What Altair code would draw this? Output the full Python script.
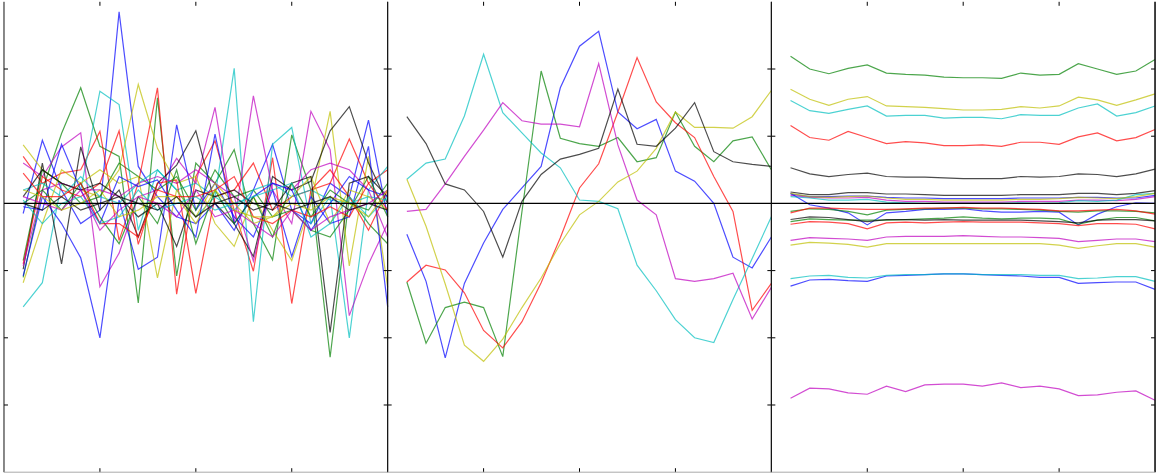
import altair as alt
import pandas as pd

# sample index shared by every trace
X = list(range(1, 21))
X_TICKS = [5, 10, 15]
Y_TICKS = [-3, -2, -1, 1, 2]
X_RANGE = [0, 20]
Y_RANGE = [-4, 3]

# classic colour cycle: b, g, r, c, m, y, k
CYCLE = ["#0000ff", "#008000", "#ff0000", "#00bfbf", "#bf00bf", "#bfbf00", "#000000"]

# left panel: noisy traces (three passes through the colour cycle)
LEFT_SERIES = [
    [-0.15, 0.94, 0.20, -0.30, -0.10, 2.85, 0.55, 0.10, -0.20, -0.30, 0.00, -0.40, 0.20, 0.88, -0.10, -0.30, 0.30, 0.10, 1.24, -0.20],
    [-1.10, 0.20, 1.04, 1.72, 0.85, 0.70, -1.48, 1.57, -1.08, 0.60, 0.30, 0.80, -0.30, -0.84, 1.02, 0.20, -2.29, 0.10, -0.30, -0.60],
    [0.70, 0.30, 0.45, 0.50, 1.07, -0.55, 0.30, 1.72, -1.35, 0.40, 0.93, -0.10, -1.01, 0.68, -1.49, 0.20, 0.30, 0.96, 0.30, 0.50],
    [-1.54, -1.18, 0.30, 0.20, 1.67, 1.47, -0.40, 0.50, 0.20, 0.30, 0.10, 2.01, -1.76, 0.88, 1.13, -0.30, 0.10, -2.00, 0.20, 0.55],
    [0.60, 0.40, 0.84, 1.05, -1.24, -0.74, 0.10, 0.20, 0.67, 0.30, 1.43, -0.30, 1.60, 0.20, -0.30, 1.37, 0.80, -1.67, -0.90, -0.30],
    [0.87, 0.50, 0.30, 0.20, 0.10, 0.50, 1.77, 0.82, 0.30, 0.40, -0.30, -0.64, 0.10, -0.40, -0.85, 0.00, 1.37, -0.93, 0.70, -1.25],
    [-0.98, 0.60, -0.90, 0.84, -0.10, 0.20, -0.50, 0.30, 0.57, 1.08, 0.00, -0.30, -0.79, 0.40, 0.20, 0.33, 1.08, 1.44, 0.60, 0.00],
    [-1.08, 0.10, -0.30, -0.81, -2.00, 0.05, -0.98, -0.80, 1.17, -0.10, 0.30, -0.20, -0.50, 0.20, -0.79, 0.10, -0.30, -0.20, 0.85, -1.54],
    [-0.85, 0.50, 0.30, 0.00, 0.10, 0.60, 0.40, 0.20, 0.40, -0.10, 0.50, 0.10, 0.20, -0.20, -0.10, -0.40, -0.50, -0.10, 0.40, -0.20],
    [-0.90, 0.40, 0.20, 0.10, 0.30, 1.08, -0.61, 0.30, 0.35, -1.34, 0.10, 0.20, 0.60, -0.10, 0.10, 0.20, 0.50, 0.10, -0.40, 0.20],
    [0.20, 0.30, 0.10, 0.40, 0.10, 0.00, 0.30, 0.50, 0.20, -0.20, 0.10, -0.10, 0.20, 0.30, 0.10, 0.20, 0.05, 0.00, 0.10, 0.05],
    [-0.93, 0.20, 0.30, 0.20, 0.20, 0.10, 0.30, 0.40, 0.30, 0.50, 0.30, 0.10, -0.86, 0.30, 0.20, 0.50, 0.60, 0.50, 0.20, -0.50],
    [-1.18, -0.30, 0.50, 0.30, 0.50, 0.30, 0.40, -1.11, 0.20, -0.20, 0.30, 0.00, -0.30, -0.20, 0.10, 0.40, -0.30, 0.20, 0.10, -0.10],
    [0.10, 0.50, 0.30, 0.20, 0.30, 0.10, -0.20, 0.00, -0.64, 0.20, 0.10, 0.20, 0.00, -0.10, 0.30, 0.40, -1.92, 0.30, 0.40, 0.10],
    [-0.05, -0.10, 0.88, 0.20, -0.30, 0.40, 0.25, 0.35, -0.10, -0.50, 1.03, -0.30, 0.10, 0.30, 0.20, -0.40, 0.00, 0.40, 0.20, 0.10],
    [0.00, 0.20, -0.10, 0.30, -0.20, -0.60, 0.10, -0.30, 0.50, -0.60, 0.20, -0.30, 0.10, -0.50, 0.30, -0.20, 0.20, 0.00, -0.10, 0.30],
    [0.45, 0.10, 0.10, 0.30, -0.30, -0.30, -0.50, 0.20, 0.10, 0.10, 0.20, 0.40, -0.20, -0.30, -0.10, -0.20, -0.05, -0.20, 0.30, -0.10],
    [0.05, -0.30, 0.00, 0.10, -0.30, -0.20, 0.20, -0.10, 0.00, 0.10, -0.10, 0.00, 0.10, 0.20, 0.30, -0.50, -0.30, 0.10, -0.20, 0.10],
    [0.10, 0.00, -0.10, 0.20, -0.40, -0.10, 0.10, 0.00, -0.20, 0.20, -0.20, -0.10, -0.30, -0.50, -0.10, -0.40, -0.20, -0.10, 0.00, 0.20],
    [0.20, 0.10, -0.10, 0.00, 0.20, -0.20, -0.10, 0.10, 0.10, -0.30, 0.20, -0.10, -0.20, -0.20, 0.00, -0.10, 0.10, 0.00, -0.20, 0.20],
    [0.00, -0.10, 0.10, -0.10, 0.00, 0.10, 0.00, -0.10, 0.10, -0.20, 0.00, 0.10, -0.10, 0.00, -0.10, 0.00, 0.10, -0.10, 0.00, -0.10],
]

# middle panel: one smooth trace per colour
MIDDLE_SERIES = [
    [-0.46, -1.16, -2.30, -1.19, -0.59, -0.09, 0.23, 0.55, 1.72, 2.34, 2.56, 1.36, 1.11, 1.25, 0.48, 0.33, 0.00, -0.80, -0.96, -0.50],
    [-1.17, -2.08, -1.55, -1.47, -1.55, -2.28, -0.12, 1.97, 0.97, 0.89, 0.85, 0.98, 0.62, 0.68, 1.36, 0.85, 0.62, 0.93, 0.99, 0.50],
    [-1.17, -0.92, -0.99, -1.33, -1.89, -2.15, -1.76, -1.18, -0.51, 0.23, 0.59, 1.36, 2.17, 1.51, 1.20, 0.98, 0.40, -0.12, -1.59, -1.19],
    [0.36, 0.60, 0.66, 1.30, 2.22, 1.35, 1.05, 0.75, 0.53, 0.05, 0.03, -0.08, -0.92, -1.30, -1.73, -2.00, -2.07, -1.43, -0.82, -0.20],
    [-0.12, -0.09, 0.29, 0.70, 1.09, 1.50, 1.23, 1.18, 1.18, 1.14, 2.08, 0.87, 0.05, -0.17, -1.12, -1.16, -1.12, -1.04, -1.72, -1.25],
    [0.36, -0.34, -1.20, -2.11, -2.35, -2.02, -1.55, -1.11, -0.60, -0.17, 0.03, 0.32, 0.48, 0.82, 1.36, 1.13, 1.13, 1.12, 1.29, 1.68],
    [1.29, 0.89, 0.29, 0.20, -0.12, -0.80, 0.03, 0.43, 0.66, 0.73, 0.82, 1.70, 0.88, 0.85, 1.12, 1.50, 0.77, 0.62, 0.58, 0.55],
]

# right panel: slowly varying offset traces
RIGHT_SERIES = [
    [0.14, 0.10, 0.10, 0.11, 0.11, 0.09, 0.08, 0.08, 0.07, 0.07, 0.07, 0.07, 0.08, 0.08, 0.08, 0.09, 0.09, 0.08, 0.08, 0.12],
    [2.19, 2.00, 1.93, 2.01, 2.06, 1.94, 1.92, 1.91, 1.88, 1.87, 1.87, 1.86, 1.94, 1.91, 1.92, 2.08, 2.00, 1.92, 1.97, 2.14],
    [1.16, 0.98, 0.94, 1.07, 0.98, 0.89, 0.92, 0.90, 0.86, 0.86, 0.87, 0.85, 0.91, 0.91, 0.88, 0.99, 1.05, 0.93, 0.98, 1.10],
    [1.53, 1.38, 1.34, 1.40, 1.45, 1.30, 1.31, 1.31, 1.27, 1.28, 1.28, 1.26, 1.32, 1.31, 1.31, 1.42, 1.48, 1.30, 1.35, 1.45],
    [0.12, 0.09, 0.08, 0.08, 0.09, 0.05, 0.03, 0.03, 0.02, 0.02, 0.02, 0.02, 0.03, 0.03, 0.03, 0.05, 0.05, 0.04, 0.06, 0.10],
    [1.70, 1.55, 1.46, 1.55, 1.59, 1.45, 1.44, 1.43, 1.41, 1.39, 1.39, 1.40, 1.44, 1.42, 1.45, 1.58, 1.54, 1.46, 1.54, 1.63],
    [0.53, 0.44, 0.40, 0.43, 0.45, 0.40, 0.39, 0.39, 0.38, 0.37, 0.37, 0.37, 0.40, 0.39, 0.40, 0.44, 0.43, 0.40, 0.44, 0.51],
    [0.15, -0.02, -0.07, -0.14, -0.32, -0.14, -0.12, -0.09, -0.09, -0.08, -0.11, -0.13, -0.13, -0.12, -0.13, -0.32, -0.16, -0.05, 0.01, 0.00],
    [-0.12, -0.08, -0.09, -0.12, -0.17, -0.10, -0.09, -0.08, -0.07, -0.07, -0.08, -0.08, -0.09, -0.10, -0.12, -0.13, -0.11, -0.11, -0.12, -0.14],
    [-0.14, -0.07, -0.07, -0.08, -0.09, -0.09, -0.08, -0.07, -0.07, -0.06, -0.07, -0.07, -0.08, -0.09, -0.11, -0.11, -0.10, -0.09, -0.11, -0.16],
    [0.10, 0.08, 0.05, 0.05, 0.06, 0.02, 0.01, 0.00, 0.00, 0.00, 0.00, 0.00, 0.01, 0.00, 0.01, 0.04, 0.03, 0.05, 0.13, 0.15],
    [-0.55, -0.51, -0.52, -0.53, -0.55, -0.50, -0.49, -0.49, -0.49, -0.48, -0.49, -0.50, -0.50, -0.51, -0.52, -0.57, -0.55, -0.53, -0.53, -0.57],
    [0.15, 0.10, 0.09, 0.10, 0.11, 0.08, 0.06, 0.06, 0.05, 0.05, 0.05, 0.05, 0.06, 0.06, 0.07, 0.09, 0.08, 0.07, 0.10, 0.15],
    [0.17, 0.13, 0.13, 0.16, 0.16, 0.14, 0.14, 0.13, 0.12, 0.12, 0.12, 0.12, 0.13, 0.13, 0.13, 0.15, 0.15, 0.13, 0.15, 0.19],
    [-1.23, -1.14, -1.13, -1.15, -1.16, -1.08, -1.07, -1.06, -1.05, -1.05, -1.06, -1.07, -1.08, -1.10, -1.10, -1.19, -1.18, -1.17, -1.17, -1.28],
    [-0.27, -0.23, -0.24, -0.25, -0.25, -0.25, -0.24, -0.23, -0.22, -0.20, -0.22, -0.23, -0.22, -0.22, -0.23, -0.31, -0.25, -0.21, -0.21, -0.26],
    [-0.31, -0.27, -0.28, -0.30, -0.38, -0.29, -0.28, -0.29, -0.28, -0.27, -0.28, -0.28, -0.28, -0.29, -0.30, -0.33, -0.30, -0.30, -0.31, -0.38],
    [-1.12, -1.08, -1.07, -1.10, -1.11, -1.07, -1.06, -1.06, -1.05, -1.05, -1.06, -1.06, -1.06, -1.07, -1.07, -1.12, -1.11, -1.09, -1.09, -1.16],
    [-2.90, -2.75, -2.76, -2.82, -2.84, -2.72, -2.80, -2.70, -2.69, -2.69, -2.72, -2.67, -2.74, -2.72, -2.76, -2.86, -2.85, -2.81, -2.79, -2.93],
    [-0.62, -0.58, -0.59, -0.61, -0.65, -0.60, -0.60, -0.60, -0.60, -0.60, -0.60, -0.60, -0.60, -0.60, -0.62, -0.67, -0.63, -0.60, -0.60, -0.65],
    [-0.24, -0.20, -0.21, -0.24, -0.27, -0.24, -0.24, -0.25, -0.24, -0.25, -0.25, -0.25, -0.25, -0.26, -0.27, -0.29, -0.25, -0.24, -0.24, -0.26],
]

PANEL_W = 385
PANEL_H = 472
TICK_LEN = 4

x_scale = alt.Scale(domain=X_RANGE, nice=False, zero=False)
y_scale = alt.Scale(domain=Y_RANGE, nice=False, zero=False)


def panel(series, right_edge_width=1.0):
    rows = []
    for i, vals in enumerate(series):
        for xv, yv in zip(X, vals):
            rows.append({"series": i, "x": xv, "y": yv, "color": CYCLE[i % len(CYCLE)]})
    df = pd.DataFrame(rows)

    lines = alt.Chart(df).mark_line(strokeWidth=1.2, opacity=0.7).encode(
        x=alt.X("x:Q", scale=x_scale, axis=None),
        y=alt.Y("y:Q", scale=y_scale, axis=None),
        color=alt.Color("color:N", scale=None),
        detail="series:N",
        order="x:Q",
    )

    xt = pd.DataFrame({"t": X_TICKS})
    yt = pd.DataFrame({"t": Y_TICKS})
    # inward ticks along the top and bottom edges
    top_ticks = alt.Chart(xt).mark_rule(color="#000000", strokeWidth=1).encode(
        x=alt.X("t:Q", scale=x_scale, axis=None),
        y=alt.value(0), y2=alt.value(TICK_LEN),
    )
    bottom_ticks = alt.Chart(xt).mark_rule(color="#000000", strokeWidth=1).encode(
        x=alt.X("t:Q", scale=x_scale, axis=None),
        y=alt.value(PANEL_H - TICK_LEN), y2=alt.value(PANEL_H),
    )
    # inward ticks along the left and right edges
    left_ticks = alt.Chart(yt).mark_rule(color="#000000", strokeWidth=1).encode(
        y=alt.Y("t:Q", scale=y_scale, axis=None),
        x=alt.value(0), x2=alt.value(TICK_LEN),
    )
    right_ticks = alt.Chart(yt).mark_rule(color="#000000", strokeWidth=1).encode(
        y=alt.Y("t:Q", scale=y_scale, axis=None),
        x=alt.value(PANEL_W - TICK_LEN), x2=alt.value(PANEL_W),
    )

    left_edge = alt.Chart(pd.DataFrame({"xe": [X_RANGE[0]]})).mark_rule(
        color="#111111", strokeWidth=1
    ).encode(x=alt.X("xe:Q", scale=x_scale, axis=None))
    right_edge = alt.Chart(pd.DataFrame({"xe": [X_RANGE[1]]})).mark_rule(
        color="#111111", strokeWidth=right_edge_width
    ).encode(x=alt.X("xe:Q", scale=x_scale, axis=None))
    zero_line = alt.Chart(pd.DataFrame({"ye": [0]})).mark_rule(
        color="#000000", strokeWidth=1.3
    ).encode(y=alt.Y("ye:Q", scale=y_scale, axis=None))
    bottom_edge = alt.Chart(pd.DataFrame({"ye": [Y_RANGE[0]]})).mark_rule(
        color="#aaaaaa", strokeWidth=1
    ).encode(y=alt.Y("ye:Q", scale=y_scale, axis=None))

    return alt.layer(
        lines, top_ticks, bottom_ticks, left_ticks, right_ticks,
        left_edge, right_edge, zero_line, bottom_edge,
    ).properties(width=PANEL_W, height=PANEL_H)


chart = alt.hconcat(
    panel(LEFT_SERIES),
    panel(MIDDLE_SERIES),
    panel(RIGHT_SERIES, right_edge_width=1.6),
    spacing=0,
    bounds="flush",
).properties(
    padding={"left": 3, "top": 0, "right": 8, "bottom": 1},
    background="white",
).configure_view(stroke=None)

chart.save("out.html", embed_options={"renderer": "svg", "actions": False})
